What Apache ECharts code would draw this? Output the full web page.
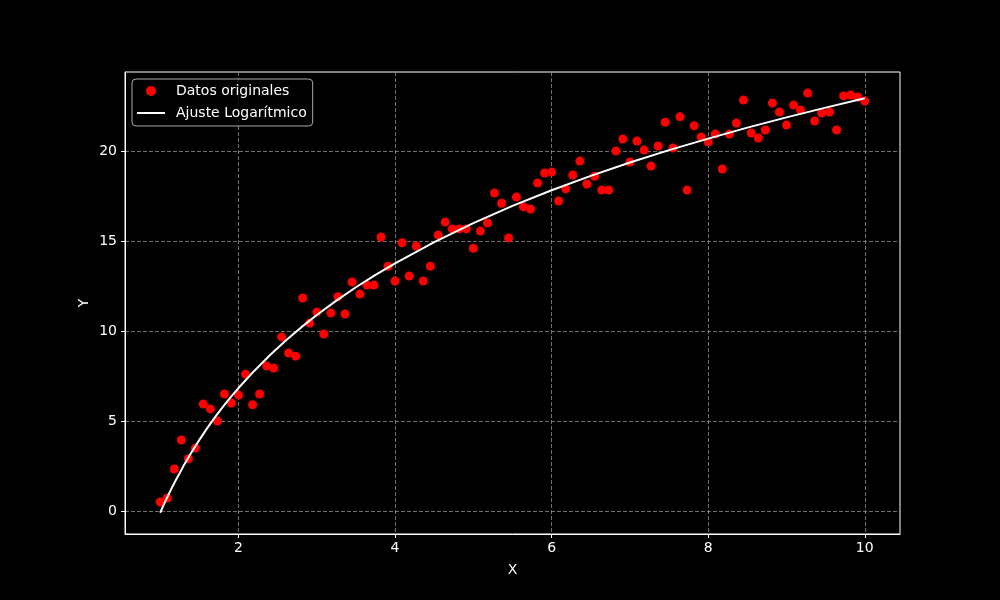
<!DOCTYPE html>
<html>
<head>
<meta charset="utf-8">
<script src="https://cdn.jsdelivr.net/npm/echarts@6/dist/echarts.min.js"></script>
<style>
html,body{margin:0;padding:0;background:#000;}
#c{width:1000px;height:600px;}
</style>
</head>
<body>
<div id="c"></div>
<script>
const xValues = [1.00,1.09,1.18,1.27,1.36,1.45,1.55,1.64,1.73,1.82,1.91,2.00,2.09,2.18,2.27,2.36,2.45,2.55,2.64,2.73,2.82,2.91,3.00,3.09,3.18,3.27,3.36,3.45,3.55,3.64,3.73,3.82,3.91,4.00,4.09,4.18,4.27,4.36,4.45,4.55,4.64,4.73,4.82,4.91,5.00,5.09,5.18,5.27,5.36,5.45,5.55,5.64,5.73,5.82,5.91,6.00,6.09,6.18,6.27,6.36,6.45,6.55,6.64,6.73,6.82,6.91,7.00,7.09,7.18,7.27,7.36,7.45,7.55,7.64,7.73,7.82,7.91,8.00,8.09,8.18,8.27,8.36,8.45,8.55,8.64,8.73,8.82,8.91,9.00,9.09,9.18,9.27,9.36,9.45,9.55,9.64,9.73,9.82,9.91,10.00];
const yValues = [0.5,0.72,2.33,3.94,2.9,3.5,5.94,5.67,5.0,6.5,6.0,6.44,7.6,5.9,6.5,8.05,7.94,9.67,8.78,8.6,11.83,10.44,11.05,9.83,11.0,11.9,10.94,12.72,12.05,12.55,12.55,15.22,13.6,12.78,14.9,13.05,14.72,12.78,13.6,15.33,16.05,15.67,15.67,15.67,14.6,15.55,16.0,17.67,17.1,15.17,17.44,16.9,16.78,18.22,18.78,18.83,17.22,17.9,18.67,19.44,18.17,18.6,17.83,17.83,20.0,20.67,19.39,20.55,20.05,19.17,20.28,21.6,20.17,21.9,17.83,21.4,20.78,20.5,20.94,19.0,20.94,21.55,22.83,21.0,20.72,21.17,22.67,22.17,21.44,22.55,22.28,23.22,21.67,22.11,22.17,21.17,23.06,23.11,23.0,22.78];
const fitX = [1.00,1.05,1.10,1.15,1.20,1.30,1.40,1.50,1.60,1.70,1.80,1.90,2.00,2.20,2.40,2.60,2.80,3.00,3.25,3.50,3.75,4.00,4.50,5.00,5.50,6.00,6.50,7.00,7.50,8.00,8.50,9.00,9.50,10.00];
const fitY = [-0.10,0.39,0.85,1.30,1.72,2.52,3.26,3.95,4.60,5.21,5.78,6.32,6.83,7.78,8.65,9.46,10.20,10.89,11.69,12.43,13.12,13.76,14.94,15.99,16.95,17.82,18.62,19.36,20.05,20.69,21.30,21.87,22.41,22.93];
const xTicks = [2,4,6,8,10];
const yTicks = [0,5,10,15,20];
const seriesNames = ['Datos originales','Ajuste Logarítmico'];

const font = 'DejaVu Sans';
const chart = echarts.init(document.getElementById('c'), null, {renderer:'canvas'});
const gridLine = {show:true, lineStyle:{color:'#8c8c8c', width:0.8, type:[4,2]}};
chart.setOption({
  backgroundColor:'#000',
  animation:false,
  textStyle:{fontFamily:font},
  grid:{left:125, right:100, top:72, bottom:66, show:true, borderColor:'#fff', borderWidth:1, backgroundColor:'#000'},
  legend:{
    left:132, top:79, orient:'vertical',
    padding:[5,6,6,5], itemGap:8, itemWidth:28, itemHeight:10,
    backgroundColor:'rgba(0,0,0,0.8)', borderColor:'#aaa', borderWidth:1, borderRadius:4,
    textStyle:{color:'#fff', fontSize:14, fontFamily:font, padding:[0,0,0,6]},
    data:[{name:seriesNames[0], icon:'circle'},
          {name:seriesNames[1], icon:'path://M0,0L0.01,0M0,4L28,4L28,6L0,6ZM0,10L0.01,10', itemStyle:{color:'#fff'}}]
  },
  xAxis:{
    type:'value', min:0.55, max:10.45,
    name:'X', nameLocation:'middle', nameGap:29, nameMoveOverlap:false,
    nameTextStyle:{color:'#fff', fontSize:14, fontFamily:font},
    axisLine:{show:true, onZero:false, lineStyle:{color:'#fff', width:1}},
    axisTick:{show:true, length:4, customValues:xTicks, lineStyle:{color:'#fff'}},
    axisLabel:{color:'#fff', fontSize:14, margin:7, fontFamily:font, customValues:xTicks},
    splitLine:gridLine
  },
  yAxis:{
    type:'value', min:-1.28, max:24.39,
    name:'Y', nameLocation:'middle', nameGap:34, nameMoveOverlap:false,
    nameTextStyle:{color:'#fff', fontSize:14, fontFamily:font},
    axisLine:{show:true, onZero:false, lineStyle:{color:'#fff', width:1}},
    axisTick:{show:true, length:4, customValues:yTicks, lineStyle:{color:'#fff'}},
    axisLabel:{color:'#fff', fontSize:14, margin:8, fontFamily:font, customValues:yTicks},
    splitLine:gridLine
  },
  series:[
    {name:seriesNames[0], type:'scatter', symbol:'circle', symbolSize:9, z:3,
     itemStyle:{color:'#ff0000', opacity:1},
     data:xValues.map((x,i)=>[x,yValues[i]])},
    {name:seriesNames[1], type:'line', symbol:'none', smooth:false, z:4,
     lineStyle:{color:'#fff', width:2}, itemStyle:{color:'#fff'},
     data:fitX.map((x,i)=>[x,fitY[i]])}
  ]
});
</script>
</body>
</html>
